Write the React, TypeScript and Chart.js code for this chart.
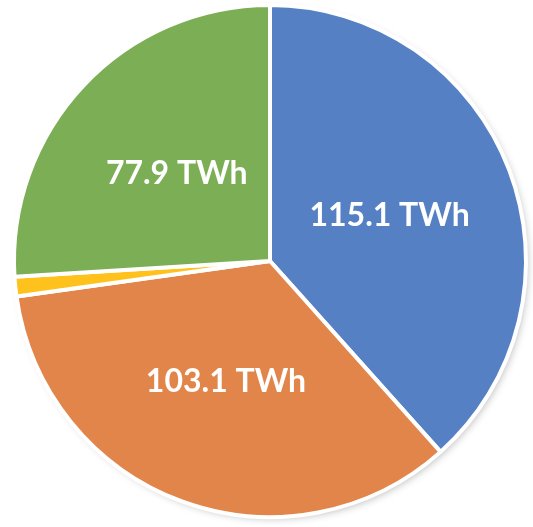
import React, { useEffect, useRef } from "react";
import { Chart, registerables } from "chart.js";

Chart.register(...registerables);

const categories = ["Blue", "Orange", "Yellow", "Green"];
const values = [115.1, 103.1, 3.7, 77.9];
const valueLabels = ["115.1 TWh", "103.1 TWh", "", "77.9 TWh"];
const colors = ["#5680C4", "#E2854A", "#FFC21C", "#7BAE55"];

const labelPlugin = {
  id: "sliceLabels",
  afterDatasetsDraw(chart: any) {
    const ctx = chart.ctx;
    const meta = chart.getDatasetMeta(0);
    ctx.save();
    ctx.fillStyle = "#ffffff";
    ctx.font = "bold 32px Lato";
    ctx.textAlign = "center";
    ctx.textBaseline = "middle";
    meta.data.forEach((arc: any, i: number) => {
      const txt = valueLabels[i];
      if (!txt) return;
      const p = arc.getCenterPoint();
      ctx.fillText(txt, p.x, p.y);
    });
    ctx.restore();
  },
};

const shadowPlugin = {
  id: "pieShadow",
  beforeDatasetsDraw(chart: any) {
    const meta = chart.getDatasetMeta(0);
    const arc: any = meta.data[0];
    if (!arc) return;
    const ctx = chart.ctx;
    ctx.save();
    ctx.shadowColor = "rgba(0,0,0,0.3)";
    ctx.shadowBlur = 8;
    ctx.shadowOffsetX = 3;
    ctx.shadowOffsetY = 3;
    ctx.fillStyle = "#ffffff";
    ctx.beginPath();
    ctx.arc(arc.x, arc.y, arc.outerRadius - 2, 0, Math.PI * 2);
    ctx.fill();
    ctx.restore();
  },
};

export default function App() {
  const ref = useRef<HTMLCanvasElement>(null);
  useEffect(() => {
    if (!ref.current) return;
    const chart = new Chart(ref.current, {
      type: "pie",
      data: {
        labels: categories,
        datasets: [
          {
            data: values,
            backgroundColor: colors,
            borderColor: "#ffffff",
            borderWidth: 4,
          },
        ],
      },
      options: {
        animation: false,
        responsive: true,
        maintainAspectRatio: false,
        layout: { padding: { left: 12, right: 5, top: 3, bottom: 8 } },
        plugins: {
          legend: { display: false },
          tooltip: { enabled: false },
        },
      },
      plugins: [shadowPlugin, labelPlugin],
    });
    return () => chart.destroy();
  }, []);
  return (
    <div style={{ position: "fixed", left: 0, top: 0, width: 533, height: 527, background: "#fff" }}>
      <canvas ref={ref} />
    </div>
  );
}
